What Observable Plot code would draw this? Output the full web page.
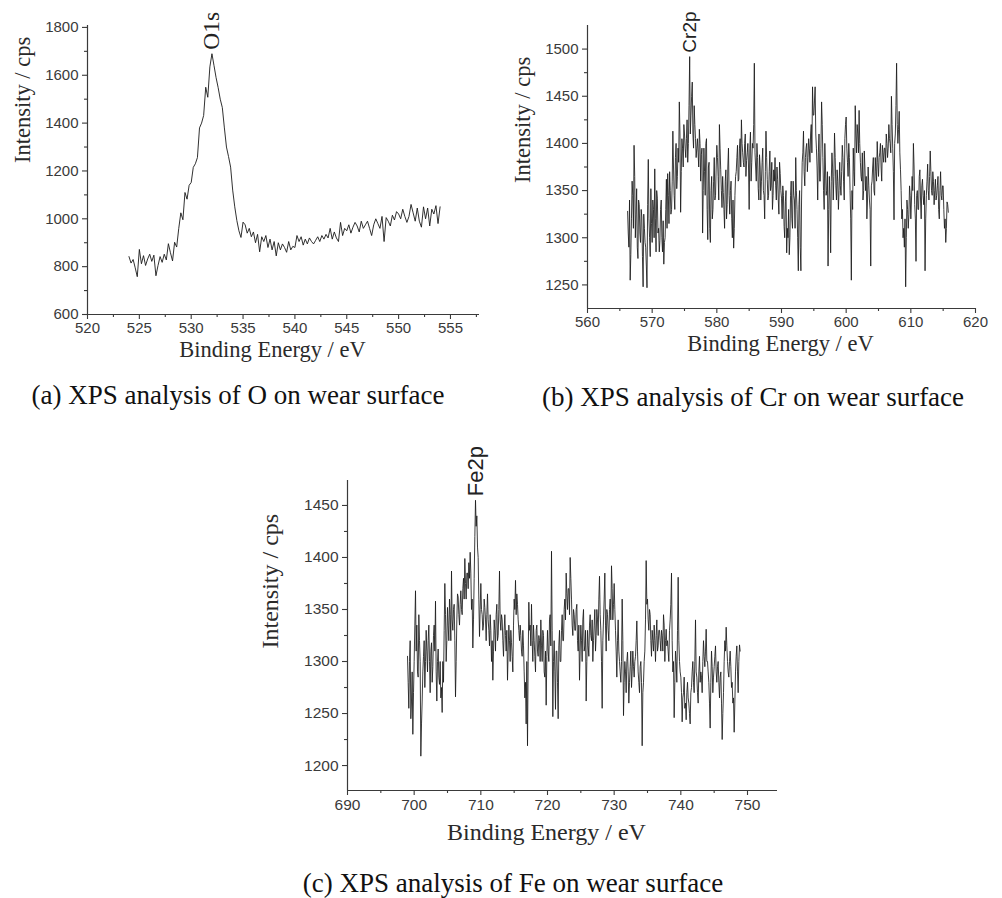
<!DOCTYPE html>
<html><head><meta charset="utf-8">
<script src="https://cdn.jsdelivr.net/npm/d3@7"></script>
<script src="https://cdn.jsdelivr.net/npm/@observablehq/plot@0.6"></script>
<style>
body{margin:0;background:#fff;}
#root{position:relative;width:1002px;height:898px;overflow:hidden;background:#fff;}
.panel{position:absolute;}
.panel svg{overflow:visible;}
.cap{position:absolute;font-family:"Liberation Serif","Times New Roman",serif;font-size:27px;line-height:27px;color:#111;white-space:nowrap;transform:translate(-50%,-50%);}
</style></head><body><div id="root"></div>
<script>
// ---------- (a) O 1s ----------
const oStart = 524.0, oStep = 0.2;
const oIntensity = [
 842,815,830,795,758, 872,812,846,805,832, 852,822,848,762,805, 842,818,852,828,896,
 858,824,902,882,960, 1025,996,1110,1082,1140, 1152,1215,1230,1256,1380, 1400,1432,1550,1508,1635,
 1690,1640,1590,1548,1500, 1465,1380,1300,1260,1216, 1120,1050,993,950,922, 986,975,940,960,925,
 945,900,935,862,925, 905,930,880,915,870, 905,845,900,870,895, 880,860,905,870,885,
 880,930,905,925,890, 915,895,920,905,895, 910,925,905,930,915, 935,920,960,915,945,
 920,905,985,930,960, 950,975,940,965,985, 970,945,990,960,975, 990,960,930,975,1000,
 980,960,1010,905,1005, 990,970,1015,995,1030, 1020,1000,1040,1010,985, 1010,1060,1025,990,1045,
 990,965,1050,1000,1045, 970,1040,1020,1055,980, 1050
];
const oXTicks = [520,525,530,535,540,545,550,555];
const oXMinor = [522.5,527.5,532.5,537.5,542.5,547.5,552.5,557.5];
const oYTicks = [600,800,1000,1200,1400,1600,1800];
const oYMinor = [700,900,1100,1300,1500,1700];

// ---------- (b) Cr 2p ----------
// readings at 566.2, 566.4, ... 615.8 eV
const crStart = 566.2, crStep = 0.2;
const crIntensity = [
 1328,1290,1255,1320,
 1345,1398,1300,1352,1278, 1335,1295,1322,1248,1310, 1290,1247,1383,1300,1352, 1295,1330,1373,1285,1342,
 1310,1297,1340,1285,1272, 1300,1362,1368,1315,1350, 1330,1413,1345,1385,1352, 1395,1444,1327,1405,1375,
 1410,1385,1425,1400,1492, 1430,1465,1395,1420,1385, 1405,1375,1400,1388,1305, 1395,1345,1405,1298,1380,
 1295,1365,1330,1385,1345, 1398,1365,1420,1372,1332, 1348,1310,1372,1335,1395, 1325,1360,1300,1289,1345,
 1370,1398,1362,1405,1425, 1390,1375,1410,1382,1400, 1330,1412,1380,1395,1485, 1375,1400,1352,1388,1340,
 1380,1350,1320,1413,1362, 1345,1392,1355,1330,1372, 1385,1340,1362,1325,1368, 1342,1355,1312,1338,1284,
 1300,1282,1345,1320,1360, 1340,1385,1330,1265,1350, 1265,1380,1413,1355,1395, 1370,1405,1380,1420,1460,
 1430,1460,1395,1340,1410, 1360,1444,1385,1330,1375, 1350,1270,1365,1284,1390, 1340,1411,1355,1372,1330,
 1380,1345,1398,1360,1405, 1428,1380,1400,1350,1255, 1330,1370,1440,1390,1410, 1435,1380,1360,1340,1392,
 1350,1320,1375,1340,1270, 1360,1385,1345,1370,1402, 1365,1390,1375,1398,1380, 1395,1410,1385,1420,1400,
 1450,1395,1319,1410,1485, 1400,1434,1372,1320,1300, 1290,1248,1340,1310,1355, 1320,1365,1400,1335,1275,
 1350,1330,1372,1320,1362, 1335,1265,1345,1378,1340, 1392,1350,1370,1335,1362, 1345,1365,1320,1370,1340,
 1355,1310,1295,1338,1327
];
// readings at 566.3, 566.5, ... 615.7 eV
const crMidStart = 566.3;
const crIntensityMid = [
 1305,1340,1282,1360,
 1310,1365,1325,1290,1340, 1305,1330,1280,1325,1295, 1270,1335,1320,1280,1315, 1340,1300,1320,1350,1305,
 1285,1330,1300,1318,1295, 1330,1310,1345,1370,1325, 1360,1375,1330,1400,1365, 1380,1410,1370,1395,1420,
 1395,1405,1380,1440,1410, 1450,1410,1440,1405,1395, 1390,1415,1360,1395,1350, 1370,1400,1330,1375,1310,
 1350,1320,1360,1340,1375, 1385,1340,1395,1350,1365, 1330,1360,1320,1375,1345, 1350,1320,1340,1310,1365,
 1385,1360,1395,1375,1400, 1380,1400,1365,1390,1375, 1395,1360,1400,1420,1390, 1360,1385,1340,1375,1360,
 1395,1345,1370,1385,1340, 1370,1350,1380,1345,1360, 1355,1375,1340,1380,1350, 1320,1345,1300,1350,1310,
 1330,1300,1360,1310,1345, 1310,1350,1300,1335,1290, 1340,1390,1370,1385,1400, 1385,1395,1410,1390,1430,
 1445,1410,1375,1390,1360, 1395,1420,1350,1400,1345, 1370,1330,1340,1360,1375, 1365,1385,1340,1360,1350,
 1355,1370,1385,1340,1420, 1395,1365,1385,1320,1350, 1395,1355,1410,1420,1390, 1400,1365,1390,1350,1375,
 1365,1340,1355,1330,1355, 1375,1350,1385,1360,1380, 1385,1400,1360,1390,1395, 1380,1400,1395,1405,1390,
 1420,1370,1400,1440,1420, 1415,1390,1350,1330,1310, 1320,1300,1330,1325,1345, 1340,1350,1375,1320,1345,
 1330,1365,1340,1355,1345, 1350,1320,1360,1350,1365, 1370,1345,1360,1350,1340, 1355,1330,1350,1345,1355,
 1330,1320,1310,1335
];
const crXTicks = [560,570,580,590,600,610,620];
const crXMinor = [565,575,585,595,605,615];
const crYTicks = [1250,1300,1350,1400,1450,1500];
const crYMinor = [1275,1325,1375,1425,1475];

// ---------- (c) Fe 2p ----------
// readings at 699.0, 699.2, ... 748.8 eV
const feStart = 699.0, feStep = 0.2;
const feIntensity = [
 1305,1255,1320,1262,1230, 1300,1368,1335,1285,1320, 1209,1262,1305,1275,1330, 1290,1335,1270,1318,1295,
 1335,1358,1262,1312,1278, 1265,1251,1280,1375,1300, 1352,1320,1345,1387,1330, 1355,1266,1340,1362,1335,
 1368,1345,1380,1399,1360, 1385,1395,1405,1350,1313, 1380,1455,1440,1400,1324, 1375,1345,1335,1352,1320,
 1365,1330,1345,1300,1282, 1340,1310,1355,1325,1387, 1330,1340,1305,1345,1310, 1282,1335,1300,1318,1290,
 1360,1378,1365,1340,1320, 1325,1305,1315,1265,1240, 1219,1357,1335,1355,1300, 1320,1290,1335,1305,1320,
 1340,1300,1325,1285,1258, 1330,1300,1345,1406,1247, 1320,1254,1310,1245,1330, 1300,1345,1320,1360,1385,
 1350,1370,1400,1360,1325, 1345,1330,1355,1310,1282, 1335,1300,1350,1315,1262, 1330,1305,1345,1320,1300,
 1335,1310,1350,1325,1382, 1330,1255,1340,1385,1310, 1345,1320,1360,1392,1340, 1375,1330,1285,1340,1300,
 1280,1360,1248,1300,1270, 1309,1260,1295,1275,1310, 1285,1305,1339,1290,1270, 1300,1219,1280,1310,1397,
 1360,1330,1345,1305,1320, 1335,1300,1340,1315,1330, 1310,1325,1345,1300,1331, 1320,1300,1340,1385,1290,
 1246,1310,1280,1381,1300, 1285,1242,1270,1255,1244, 1280,1260,1240,1275,1300, 1270,1340,1285,1260,1305,
 1290,1270,1320,1295,1331, 1300,1280,1236,1310,1270, 1295,1315,1280,1300,1265, 1290,1225,1270,1320,1333,
 1300,1285,1310,1275,1260, 1232,1290,1315,1270,1316
];
// readings at 699.1, 699.3, ... 748.9 eV
const feMidStart = 699.1;
const feIntensityMid = [
 1280,1300,1245,1290,1270, 1335,1310,1290,1345,1300, 1240,1290,1320,1300,1310, 1320,1300,1310,1280,1325,
 1310,1290,1300,1285,1300, 1275,1300,1330,1345,1320, 1335,1360,1320,1340,1350, 1320,1300,1365,1345,1355,
 1350,1370,1360,1375,1385, 1370,1380,1385,1360,1340, 1420,1430,1410,1360,1350, 1350,1330,1360,1340,1345,
 1340,1315,1330,1320,1310, 1330,1345,1320,1350,1340, 1345,1320,1330,1325,1330, 1310,1320,1330,1305,1335,
 1350,1345,1355,1330,1335, 1310,1330,1290,1280,1300, 1300,1330,1315,1320,1335, 1305,1330,1310,1325,1300,
 1315,1330,1290,1310,1305, 1310,1340,1315,1330,1300, 1290,1310,1280,1315,1300, 1330,1320,1350,1340,1365,
 1370,1345,1380,1335,1350, 1330,1350,1320,1335,1310, 1320,1340,1310,1330,1300, 1315,1335,1325,1340,1320,
 1350,1325,1340,1360,1345, 1300,1320,1360,1335,1350, 1330,1350,1340,1370,1355, 1350,1310,1320,1310,1290,
 1300,1320,1280,1290,1300, 1290,1280,1310,1290,1295, 1300,1320,1310,1280,1295, 1280,1270,1300,1340,1355,
 1340,1350,1320,1330,1310, 1320,1325,1310,1330,1320, 1330,1310,1335,1320,1315, 1310,1330,1355,1320,1300,
 1280,1300,1330,1320,1290, 1270,1265,1285,1260,1270, 1265,1250,1270,1290,1280, 1300,1290,1270,1290,1280,
 1285,1300,1305,1310,1300, 1290,1260,1280,1295,1285, 1305,1290,1295,1280,1285, 1260,1250,1300,1310,1315,
 1290,1300,1295,1280,1265, 1260,1305,1290,1300,1310
];
const feXTicks = [690,700,710,720,730,740,750];
const feXMinor = [695,705,715,725,735,745];
const feYTicks = [1200,1250,1300,1350,1400,1450];
const feYMinor = [1225,1275,1325,1375,1425];

const xTitle = "Binding Energy / eV";
const yTitle = "Intensity / cps";
const captions = ["(a) XPS analysis of O on wear surface", "(b) XPS analysis of Cr on wear surface", "(c) XPS analysis of Fe on wear surface"];
const peakNames = ["O1s", "Cr2p", "Fe2p"];

const SANS = "Liberation Sans, Arial, Helvetica, sans-serif";
const SERIF = "Liberation Serif, Times New Roman, serif";
const AX = "#3a3a3a";

function spectrum(series) {
  const out = [];
  for (const [start, step, values] of series)
    values.forEach((v, i) => out.push({e: +(start + step * i).toFixed(2), v}));
  return out.sort((a, b) => a.e - b.e);
}

function panel(c) {
  const data = spectrum(c.series);
  const peak = data.reduce((a, b) => (b.v > a.v ? b : a));
  const fmt = d => String(d);
  return Plot.plot({
    width: c.width, height: c.height,
    marginLeft: c.ml, marginRight: c.mr, marginTop: c.mt, marginBottom: c.mb,
    x: {domain: c.xDomain, axis: null},
    y: {domain: c.yDomain, axis: null},
    style: {fontFamily: SANS, background: "transparent", overflow: "visible", color: AX},
    marks: [
      Plot.axisX(c.xTicks, {label: null, tickSize: 5, tickPadding: 3, tickFormat: fmt, fontSize: c.tickFont, color: AX, strokeWidth: 1.1}),
      Plot.axisX(c.xMinor, {label: null, tickSize: 3, tickFormat: () => "", color: AX, strokeWidth: 1.1}),
      Plot.axisY(c.yTicks, {label: null, tickSize: 5, tickPadding: 4, tickFormat: fmt, fontSize: c.tickFont, color: AX, strokeWidth: 1.1}),
      Plot.axisY(c.yMinor, {label: null, tickSize: 3, tickFormat: () => "", color: AX, strokeWidth: 1.1}),
      Plot.ruleY([c.yDomain[0]], {stroke: AX, strokeWidth: 1.2}),
      Plot.ruleX([c.xDomain[0]], {stroke: AX, strokeWidth: 1.2}),
      Plot.line(data, {x: "e", y: "v", stroke: "#1a1a1a", strokeWidth: c.lineWidth}),
      Plot.text([peak], {x: "e", y: "v", text: () => c.peakName, rotate: -90, textAnchor: "start", dy: -4,
        fontSize: c.peakFont, fontFamily: c.peakFamily, fill: "#222"}),
      Plot.text([xTitle], {frameAnchor: "bottom", dx: c.xtDx, dy: c.xtDy, fontSize: c.titleFont, fontFamily: SERIF, fill: "#2a2a2a"}),
      Plot.text([yTitle], {frameAnchor: "left", rotate: -90, dx: c.ytDx, dy: c.ytDy, fontSize: c.titleFont, fontFamily: SERIF, fill: "#2a2a2a"})
    ]
  });
}

const root = document.getElementById("root");
function place(node, left, top) {
  const d = document.createElement("div");
  d.className = "panel";
  d.style.left = left + "px"; d.style.top = top + "px";
  d.appendChild(node);
  root.appendChild(d);
}
function caption(text, cx, cy) {
  const d = document.createElement("div");
  d.className = "cap";
  d.textContent = text;
  d.style.left = cx + "px"; d.style.top = cy + "px";
  root.appendChild(d);
}

place(panel({series: [[oStart, oStep, oIntensity]], xDomain: [520, 557.8], yDomain: [600, 1808],
  xTicks: oXTicks, xMinor: oXMinor, yTicks: oYTicks, yMinor: oYMinor,
  width: 500, height: 375, ml: 87, mr: 21, mt: 25, mb: 61, tickFont: 15, lineWidth: 0.9,
  peakName: peakNames[0], peakFont: 23.5, peakFamily: SERIF,
  titleFont: 22.5, xtDx: -11, xtDy: 42, ytDx: -65, ytDy: -7}), 0, 0);

place(panel({series: [[crStart, crStep, crIntensity], [crMidStart, crStep, crIntensityMid]], xDomain: [560, 620], yDomain: [1225, 1525],
  xTicks: crXTicks, xMinor: crXMinor, yTicks: crYTicks, yMinor: crYMinor,
  width: 500, height: 375, ml: 87, mr: 25, mt: 25, mb: 67, tickFont: 15, lineWidth: 0.85,
  peakName: peakNames[1], peakFont: 19, peakFamily: SANS,
  titleFont: 22.5, xtDx: -1, xtDy: 42, ytDx: -65, ytDy: 16}), 500, 0);

place(panel({series: [[feStart, feStep, feIntensity], [feMidStart, feStep, feIntensityMid]], xDomain: [690, 754.5], yDomain: [1176, 1474],
  xTicks: feXTicks, xMinor: feXMinor, yTicks: feYTicks, yMinor: feYMinor,
  width: 540, height: 420, ml: 97, mr: 13, mt: 40, mb: 70, tickFont: 15.5, lineWidth: 0.85,
  peakName: peakNames[2], peakFont: 22, peakFamily: SANS,
  titleFont: 24, xtDx: -16, xtDy: 49, ytDx: -77, ytDy: 13}), 250, 440);

caption(captions[0], 238, 395);
caption(captions[1], 753, 397);
caption(captions[2], 513, 883);
</script>
</body></html>
